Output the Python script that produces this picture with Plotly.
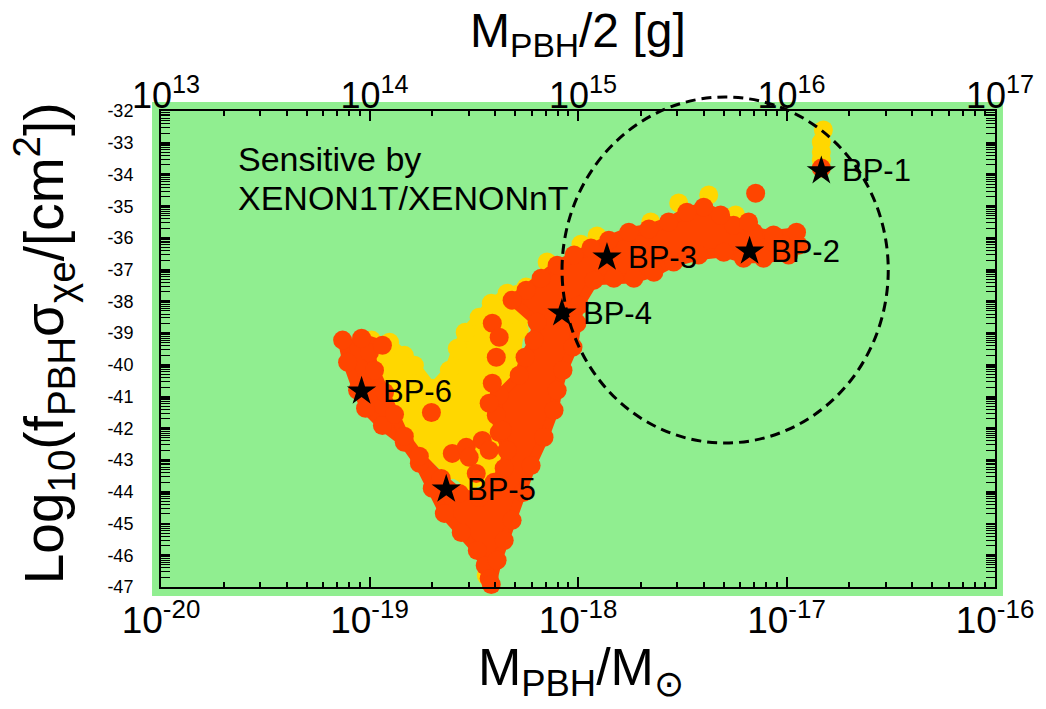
import numpy as np
import plotly.graph_objects as go

# ---------------- data (log10 M_PBH/M_sun , log10 f*sigma) ----------------
# orange region outline (centres of the rim points)
orange_logm = [-19.129, -19.105, -19.057, -19.019, -18.938, -18.833, -18.761, -18.699, -18.641, -18.560,
               -18.483, -18.445, -18.426, -18.416, -18.388, -18.354, -18.316, -18.263, -18.225, -18.163,
               -18.115, -18.100, -18.072, -18.024, -18.005, -17.995, -17.923, -17.828, -17.732, -17.636,
               -17.541, -17.421, -17.301, -17.206, -17.110, -16.990, -16.943, -16.952, -17.062, -17.158,
               -17.254, -17.316, -17.397, -17.478, -17.565, -17.660, -17.756, -17.852, -17.938, -18.019,
               -18.100, -18.177, -18.249, -18.316, -18.196, -18.211, -18.254, -18.282, -18.378, -18.392,
               -18.378, -18.340, -18.354, -18.402, -18.474, -18.569, -18.656, -18.761, -18.833, -18.880,
               -18.928, -18.976, -19.000, -18.938, -19.038]
orange_logsig = [-39.22, -39.92, -40.80, -41.37, -41.91, -42.44, -43.10, -43.89, -44.68, -45.28,
                 -45.85, -46.32, -46.73, -46.92, -46.16, -45.53, -44.90, -44.02, -43.17, -42.28,
                 -41.43, -40.80, -40.17, -39.44, -38.69, -38.12, -37.33, -37.27, -37.27, -37.08,
                 -36.76, -36.54, -36.45, -36.64, -36.64, -36.54, -36.23, -35.82, -35.91, -35.82,
                 -35.60, -35.28, -35.03, -35.19, -35.50, -35.72, -35.82, -36.07, -36.32, -36.54,
                 -36.86, -37.27, -37.65, -37.96, -38.66, -39.22, -39.76, -40.33, -40.96, -41.59,
                 -42.13, -42.69, -43.26, -43.70, -44.18, -44.05, -43.58, -42.88, -42.25, -41.56,
                 -40.86, -40.17, -39.60, -39.38, -39.16]
# isolated orange points
orange_dot_logm = [-18.703, -18.411, -18.378, -18.392, -18.411, -18.426, -18.364, -18.603, -18.536,
                   -18.522, -18.459, -18.426, -18.488, -17.148, -17.182, -16.833]
orange_dot_logsig = [-41.50, -38.69, -39.13, -39.76, -40.58, -41.21, -42.06, -42.79, -42.60,
                     -42.91, -42.38, -42.69, -43.42, -34.59, -35.50, -33.80]
# yellow region outline
yellow_logm = [-18.990, -18.904, -18.833, -18.785, -18.699, -18.617, -18.579, -18.541, -18.474, -18.416,
               -18.340, -18.249, -18.163, -18.282, -18.330, -18.354, -18.426, -18.522, -18.617, -18.737,
               -18.856, -18.928, -19.000]
yellow_logsig = [-39.22, -39.29, -39.70, -40.01, -40.74, -40.17, -39.48, -38.97, -38.50, -38.06,
                 -37.74, -37.55, -37.27, -38.91, -41.12, -43.01, -43.64, -43.70, -43.32, -42.69,
                 -41.75, -40.64, -39.70]
# isolated yellow points
yellow_dot_logm = [-17.517, -17.373, -17.244, -17.651, -17.909, -17.986, -18.148, -18.440,
                   -16.823, -16.833, -16.833, -16.833]
yellow_dot_logsig = [-34.90, -34.65, -35.28, -35.50, -35.94, -36.20, -36.76, -46.64,
                     -32.60, -32.98, -33.29, -33.55]
# benchmark points
bp_names = ["BP-1", "BP-2", "BP-3", "BP-4", "BP-5", "BP-6"]
bp_logm = [-16.833, -17.177, -17.861, -18.077, -18.632, -19.038]
bp_logsig = [-33.89, -36.42, -36.61, -38.37, -43.92, -40.83]

x_decades = [-20, -19, -18, -17, -16]
top_decades = [13, 14, 15, 16, 17]
y_major = list(range(-47, -31))
minor_mult = [2, 3, 4, 5, 6, 7, 8, 9]

GREEN = "#90EE90"
YELLOW = "#FFD700"
ORANGE = "#FF4500"
FONT = "Liberation Sans, Arial, sans-serif"

# plot-area geometry in pixels
W, H = 1046, 709
L, R, T, B = 161, 997, 111, 587
pw, ph = R - L, B - T

fig = go.Figure()

fig.add_trace(go.Scatter(
    x=10 ** np.array(yellow_logm), y=yellow_logsig, mode="lines+markers", fill="toself",
    fillcolor=YELLOW, line=dict(color=YELLOW, width=10), marker=dict(size=19, color=YELLOW),
    cliponaxis=False, hoverinfo="skip", showlegend=False))
fig.add_trace(go.Scatter(
    x=10 ** np.array(yellow_dot_logm), y=yellow_dot_logsig, mode="markers",
    marker=dict(size=19, color=YELLOW), cliponaxis=False, hoverinfo="skip", showlegend=False))
fig.add_trace(go.Scatter(
    x=10 ** np.array(orange_logm), y=orange_logsig, mode="lines+markers", fill="toself",
    fillcolor=ORANGE, line=dict(color=ORANGE, width=10), marker=dict(size=19, color=ORANGE),
    cliponaxis=False, hoverinfo="skip", showlegend=False))
fig.add_trace(go.Scatter(
    x=10 ** np.array(orange_dot_logm), y=orange_dot_logsig, mode="markers",
    marker=dict(size=19, color=ORANGE), cliponaxis=False, hoverinfo="skip", showlegend=False))
fig.add_trace(go.Scatter(
    x=10 ** np.array(bp_logm), y=bp_logsig, mode="markers",
    marker=dict(symbol="star", size=22, color="black", line=dict(width=0)),
    cliponaxis=False, hoverinfo="skip", showlegend=False))
# invisible trace that activates the top (gram) axis
fig.add_trace(go.Scatter(
    x=[10.0 ** d for d in top_decades], y=[y_major[0]] * len(top_decades), xaxis="x2",
    mode="markers", marker=dict(opacity=0), hoverinfo="skip", showlegend=False))

for name, lm, ls in zip(bp_names, bp_logm, bp_logsig):
    fig.add_annotation(x=lm, y=ls, xref="x", yref="y", text=name, showarrow=False,
                       xanchor="left", yanchor="middle", xshift=19,
                       font=dict(family=FONT, size=31, color="black"))

# minor tick positions
x_minor = [m * 10.0 ** d for d in x_decades[:-1] for m in minor_mult]
top_minor = [m * 10.0 ** d for d in top_decades[:-1] for m in minor_mult]
y_minor = [k + float(np.log10(m)) for k in y_major[:-1] for m in minor_mult]

fig.update_layout(
    width=W, height=H,
    margin=dict(l=L, r=W - R, t=T, b=H - B),
    paper_bgcolor="white", plot_bgcolor=GREEN,
    font=dict(family=FONT, color="black"),
    showlegend=False,
    xaxis=dict(type="log", range=[-20, -16], showgrid=False, zeroline=False,
               tickmode="array", tickvals=[10.0 ** d for d in x_decades],
               ticktext=["10<sup>%d</sup>" % d for d in x_decades],
               ticks="inside", ticklen=10, tickwidth=1.5, tickcolor="black",
               minor=dict(tickmode="array", tickvals=x_minor, ticks="inside", ticklen=5,
                          tickwidth=1.5, tickcolor="black", showgrid=False),
               showline=True, linecolor="black", linewidth=2, mirror=True,
               tickfont=dict(size=37), ticklabelstandoff=0),
    xaxis2=dict(type="log", range=[13, 17], overlaying="x", side="top", anchor="y",
                showgrid=False, zeroline=False,
                tickmode="array", tickvals=[10.0 ** d for d in top_decades],
                ticktext=["10<sup>%d</sup>" % d for d in top_decades],
                ticks="inside", ticklen=10, tickwidth=1.5, tickcolor="black",
                minor=dict(tickmode="array", tickvals=top_minor, ticks="inside", ticklen=5,
                           tickwidth=1.5, tickcolor="black", showgrid=False),
                showline=False, tickfont=dict(size=36), ticklabelstandoff=-5,
                ticklabelshift=5),
    yaxis=dict(range=[-47, -32], showgrid=False, zeroline=False,
               tickmode="array", tickvals=y_major, ticktext=["%d" % v for v in y_major],
               ticks="inside", ticklen=9, tickwidth=1.5, tickcolor="black",
               minor=dict(tickmode="array", tickvals=y_minor, ticks="inside", ticklen=4,
                          tickwidth=1, tickcolor="black", showgrid=False),
               showline=True, linecolor="black", linewidth=2, mirror="allticks",
               tickfont=dict(size=18), ticklabelstandoff=22),
)

# light-green background patch slightly larger than the frame
fig.add_shape(type="rect", xref="paper", yref="paper", layer="below",
              x0=-9 / pw, x1=1 + 8 / pw, y0=-9 / ph, y1=1 + 9 / ph,
              fillcolor=GREEN, line=dict(width=0))

# dashed circle (extends beyond the frame, so in paper coordinates)
cx, cy, rx, ry = 726.5, 270, 163.5, 173
fig.add_shape(type="circle", xref="paper", yref="paper", layer="above",
              x0=(cx - rx - L) / pw, x1=(cx + rx - L) / pw,
              y0=(B - (cy + ry)) / ph, y1=(B - (cy - ry)) / ph,
              line=dict(color="black", width=3, dash="10px,6px"))

# texts
fig.add_annotation(x=(236 - L) / pw, y=(B - 159) / ph, xref="paper", yref="paper",
                   text="Sensitive by", showarrow=False, xanchor="left", yanchor="middle",
                   font=dict(size=34))
fig.add_annotation(x=(236 - L) / pw, y=(B - 198) / ph, xref="paper", yref="paper",
                   text="XENON1T/XENONnT", showarrow=False, xanchor="left", yanchor="middle",
                   font=dict(size=34))
fig.add_annotation(x=(582 - L) / pw, y=(B - 671) / ph, xref="paper", yref="paper",
                   text="M<sub>PBH</sub>/M<sub>⊙</sub>", showarrow=False,
                   xanchor="center", yanchor="middle", font=dict(size=52))
fig.add_annotation(x=(579 - L) / pw, y=(B - 34) / ph, xref="paper", yref="paper",
                   text="M<sub>PBH</sub>/2 [g]", showarrow=False,
                   xanchor="center", yanchor="middle", font=dict(size=48))
fig.add_annotation(x=(44 - L) / pw, y=(B - 343) / ph, xref="paper", yref="paper",
                   text="Log<sub>10</sub>(f<sub>PBH</sub>σ<sub>χe</sub>/[cm<sup>2</sup>])",
                   showarrow=False, textangle=-90, xanchor="center", yanchor="middle",
                   font=dict(size=55))

fig.write_html("out.html")
